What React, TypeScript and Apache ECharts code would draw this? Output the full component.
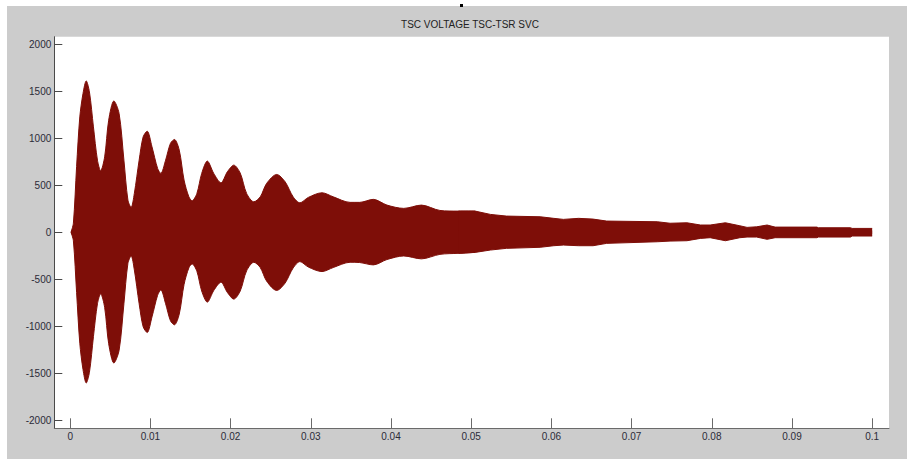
import React, { useEffect, useRef } from "react";
import * as echarts from "echarts";

// Time (s) of the envelope samples
const times = [
  0.0001, 0.0004, 0.0008, 0.0012, 0.0016, 0.002, 0.0024, 0.0029, 0.0034, 0.0038,
  0.0043, 0.0048, 0.00545, 0.0061, 0.0067, 0.0072, 0.0076, 0.008, 0.0086, 0.0091,
  0.0096, 0.0102, 0.0109, 0.0113, 0.0119, 0.0125, 0.013, 0.0136, 0.0142, 0.0148,
  0.0152, 0.0158, 0.0164, 0.0171, 0.0179, 0.0188, 0.0196, 0.0204, 0.0212, 0.022,
  0.0229, 0.0237, 0.0245, 0.02575, 0.0268, 0.0278, 0.02865, 0.0297, 0.0314, 0.0328,
  0.0349, 0.0361, 0.0378, 0.0395, 0.0416, 0.0438, 0.0461, 0.0484, 0.0505, 0.0524,
  0.0544, 0.0586, 0.0603, 0.0615, 0.0634, 0.0652, 0.0669, 0.0732, 0.0748, 0.0769,
  0.0786, 0.0798, 0.0817, 0.0835, 0.0844, 0.0856, 0.0869, 0.0879, 0.0931, 0.0933,
  0.0973, 0.0975, 0.1,
];

// Upper envelope of the TSC voltage (V)
const upperEnvelope = [
  0, 96, 698, 1227, 1476, 1610, 1493, 1121, 767, 654,
  802, 1192, 1397, 1263, 767, 342, 265, 413, 767, 1015,
  1075, 909, 679, 626, 767, 945, 987, 874, 555, 377,
  335, 413, 626, 757, 626, 526, 643, 714, 630, 413,
  324, 377, 520, 615, 537, 377, 313, 371, 420, 377,
  318, 318, 350, 289, 254, 289, 232, 225, 225, 190,
  172, 165, 148, 137, 148, 140, 119, 112, 96, 101,
  77, 77, 101, 69, 52, 58, 77, 55, 55, 48,
  48, 41, 41,
];

// Lower envelope of the TSC voltage (V)
const lowerEnvelope = [
  0, -90, -640, -1180, -1460, -1603, -1490, -1110, -760, -655,
  -800, -1185, -1391, -1255, -760, -330, -252, -400, -760, -1005,
  -1066, -900, -670, -613, -760, -940, -984, -870, -555, -378,
  -337, -415, -625, -743, -620, -531, -640, -711, -625, -410,
  -319, -375, -520, -619, -540, -380, -312, -370, -418, -375,
  -319, -322, -347, -290, -252, -283, -235, -224, -214, -189,
  -171, -160, -143, -136, -143, -143, -118, -101, -94, -90,
  -65, -58, -90, -58, -51, -51, -75, -58, -58, -51,
  -51, -40, -40,
];

const yTicks = [-2000, -1500, -1000, -500, 0, 500, 1000, 1500, 2000];
const xTicks = [0, 0.01, 0.02, 0.03, 0.04, 0.05, 0.06, 0.07, 0.08, 0.09, 0.1];
const titleText = "TSC VOLTAGE TSC-TSR SVC";

const SPLIT_T = 0.0484; // smooth oscillating part before, stepped tail after
const OVERLAP_T = 0.0505;
const FILL = "#7e0e08";
const FONT = "'Liberation Sans', Arial, Helvetica, sans-serif";

export default function App() {
  const ref = useRef<HTMLDivElement>(null);

  useEffect(() => {
    if (!ref.current) return;
    const chart = echarts.init(ref.current, undefined, { renderer: "svg" });

    const pairs = (vals: number[]) => times.map((t, i) => [t, vals[i]]);
    const up = pairs(upperEnvelope);
    const lo = pairs(lowerEnvelope);
    const early = (p: number[][]) => p.filter((d) => d[0] <= OVERLAP_T);
    const tail = (p: number[][]) => p.filter((d) => d[0] >= SPLIT_T);

    const band = (data: number[][], smooth: number | boolean, origin: number) => ({
      type: "line",
      data,
      smooth,
      symbol: "none",
      showSymbol: false,
      silent: true,
      lineStyle: { color: FILL, width: 1 },
      areaStyle: { color: FILL, opacity: 1, origin },
    });

    chart.setOption({
      animation: false,
      backgroundColor: "#cccccc",
      grid: {
        show: true,
        left: 47.3,
        top: 30.7,
        right: 18,
        bottom: 30.7,
        backgroundColor: "#ffffff",
        borderWidth: 0,
        containLabel: false,
      },
      graphic: [
        {
          type: "text",
          style: {
            text: titleText,
            x: 463,
            y: 18.5,
            align: "center",
            verticalAlign: "middle",
            fontSize: 10,
            fontFamily: FONT,
            fill: "#222222",
          },
        },
      ],
      xAxis: {
        type: "value",
        min: -0.00198,
        max: 0.1021,
        axisLine: { show: true, onZero: false, lineStyle: { color: "#6a6a6a", width: 1 } },
        axisTick: {
          show: true,
          inside: true,
          length: 10,
          customValues: xTicks,
          lineStyle: { color: "#6a6a6a" },
        },
        axisLabel: {
          show: true,
          customValues: xTicks,
          margin: 3,
          fontSize: 10,
          fontFamily: FONT,
          color: "#2b2b38",
          formatter: (v: number) => String(Number(v.toFixed(3))),
        },
        splitLine: { show: false },
      },
      yAxis: {
        type: "value",
        min: -2085,
        max: 2080,
        axisLine: { show: true, onZero: false, lineStyle: { color: "#4a4a4a", width: 1 } },
        axisTick: {
          show: true,
          inside: true,
          length: 8,
          customValues: yTicks,
          lineStyle: { color: "#4a4a4a" },
        },
        axisLabel: {
          show: true,
          customValues: yTicks,
          margin: 3,
          fontSize: 10,
          fontFamily: FONT,
          color: "#2b2b38",
          formatter: (v: number) => String(v),
        },
        splitLine: { show: false },
      },
      series: [
        band(early(up), 0.3, -20),
        band(early(lo), 0.3, 20),
        band(tail(up), false, -20),
        band(tail(lo), false, 20),
      ],
    });

    return () => chart.dispose();
  }, []);

  return (
    <>
      <div
        ref={ref}
        style={{ position: "fixed", left: 7, top: 6, width: 900, height: 453 }}
      />
      <div
        style={{
          position: "fixed",
          left: 460,
          top: 4,
          width: 3,
          height: 3,
          background: "#000",
        }}
      />
    </>
  );
}
